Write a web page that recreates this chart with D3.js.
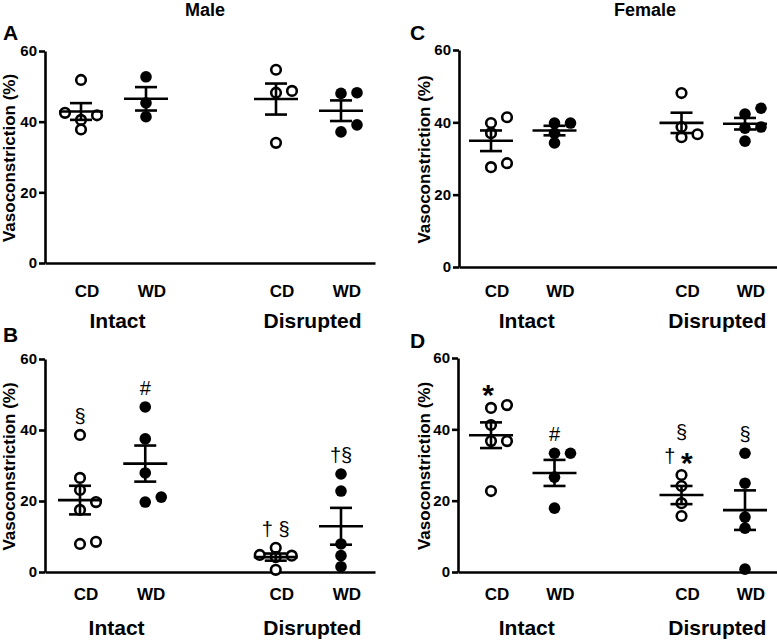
<!DOCTYPE html>
<html><head><meta charset="utf-8">
<script src="https://cdn.jsdelivr.net/npm/d3@7"></script>
<style>body{margin:0;background:#fff} svg{display:block}</style>
</head><body><svg id="c" width="777" height="641"></svg>
<script>
// ---------- data ----------
const sexes = ["Male", "Female"];
const panelLetters = ["A", "B", "C", "D"];
const categories = ["CD", "WD", "CD", "WD"];
const conditions = ["Intact", "Disrupted"];
const yTicks = [0, 20, 40, 60];
const yTitle = "Vasoconstriction (%)";

// Panel A (Male, top)
const maleA_intactCD = [51.8, 42.5, 41.8, 40.5, 37.8];
const maleA_intactWD = [52.7, 45.3, 41.4];
const maleA_disruptedCD = [54.7, 48.7, 48.2, 34.0];
const maleA_disruptedWD = [48.2, 48.0, 39.1, 37.1];
// Panel B (Male, bottom)
const maleB_intactCD = [38.6, 26.5, 23.1, 19.7, 17.5, 8.5, 7.9];
const maleB_intactWD = [46.5, 37.5, 27.9, 21.1, 19.7];
const maleB_disruptedCD = [6.8, 4.8, 4.6, 4.2, 0.6];
const maleB_disruptedWD = [27.6, 22.8, 7.9, 4.6, 1.5];
const maleB_marks = ["§", "#", "† §", "†§"];
// Panel C (Female, top)
const femaleC_intactCD = [41.4, 39.8, 37.0, 28.7, 27.6];
const femaleC_intactWD = [39.8, 39.8, 37.0, 34.3];
const femaleC_disruptedCD = [48.1, 38.7, 36.7, 35.9];
const femaleC_disruptedWD = [43.9, 42.3, 38.7, 38.4, 34.8];
// Panel D (Female, bottom)
const femaleD_intactCD = [46.8, 46.0, 41.2, 36.7, 36.7, 22.7];
const femaleD_intactWD = [33.3, 33.3, 26.6, 17.9];
const femaleD_disruptedCD = [27.2, 24.1, 19.3, 15.7];
const femaleD_disruptedWD = [33.3, 24.9, 15.4, 12.3, 0.8];
const femaleD_marks = ["*", "#", "§|† *", "§"];

// ---------- layout ----------
const FONT = "'Liberation Sans', Arial, Helvetica, sans-serif";
const colPos = [0, 1, 3, 4];
const panels = [
  {letter: "A", groups: [maleA_intactCD, maleA_intactWD, maleA_disruptedCD, maleA_disruptedWD], marks: null,
   xr: [81, 341], axisX: [45, 375], yr: [263, 51], labelY: 297, groupY: 328, letterPos: [3, 40], titleX: 9},
  {letter: "B", groups: [maleB_intactCD, maleB_intactWD, maleB_disruptedCD, maleB_disruptedWD], marks: maleB_marks,
   xr: [80, 341], axisX: [45, 375], yr: [572, 359], labelY: 600, groupY: 635, letterPos: [3, 342], titleX: 9},
  {letter: "C", groups: [femaleC_intactCD, femaleC_intactWD, femaleC_disruptedCD, femaleC_disruptedWD], marks: null,
   xr: [491, 745], axisX: [459, 777], yr: [267, 50], labelY: 297, groupY: 328, letterPos: [410, 40], titleX: 424},
  {letter: "D", groups: [femaleD_intactCD, femaleD_intactWD, femaleD_disruptedCD, femaleD_disruptedWD], marks: femaleD_marks,
   xr: [491, 745], axisX: [458, 777], yr: [572, 358], labelY: 600, groupY: 635, letterPos: [410, 348], titleX: 424}
];

const svg = d3.select("#c");
const SW = 2.6;

// titles
svg.append("text").attr("x", 205).attr("y", 16).attr("text-anchor", "middle")
  .style("font", `bold 18px ${FONT}`).text(sexes[0]);
svg.append("text").attr("x", 645).attr("y", 16).attr("text-anchor", "middle")
  .style("font", `bold 18px ${FONT}`).text(sexes[1]);

function dodge(vals, y, step, minD) {
  const order = vals.map((v, i) => i).sort((a, b) => vals[a] - vals[b]);
  const placed = [];
  const offs = new Array(vals.length);
  order.forEach(i => {
    const py = y(vals[i]);
    const cands = [0, step, -step, 2 * step, -2 * step];
    for (const dx of cands) {
      const ok = placed.every(p => Math.hypot(p.dx - dx, p.py - py) >= minD);
      if (ok) { offs[i] = dx; placed.push({dx, py}); break; }
    }
  });
  return offs;
}

panels.forEach(p => {
  const g = svg.append("g");
  const x = d3.scaleLinear().domain([0, 4]).range(p.xr);
  const y = d3.scaleLinear().domain([0, 60]).range(p.yr);

  // y axis
  const ya = g.append("g").attr("transform", `translate(${p.axisX[0]},0)`)
    .call(d3.axisLeft(y).tickValues(yTicks).tickSize(6).tickSizeOuter(0).tickPadding(2));
  ya.select(".domain").attr("stroke", "#000").attr("stroke-width", SW);
  ya.selectAll(".tick line").attr("stroke", "#000").attr("stroke-width", SW);
  ya.selectAll(".tick text").style("font", `bold 15px ${FONT}`).attr("fill", "#000");

  // x axis line
  const xa = d3.scaleLinear().domain([0, 1]).range(p.axisX);
  const xg = g.append("g").attr("transform", `translate(0,${y(0)})`)
    .call(d3.axisBottom(xa).tickValues([]).tickSizeOuter(0));
  xg.select(".domain").attr("stroke", "#000").attr("stroke-width", SW);

  // y title
  g.append("text").attr("transform", `translate(${p.titleX},${(y(0) + y(60)) / 2 + 1}) rotate(-90)`)
    .attr("text-anchor", "middle").attr("dominant-baseline", "central")
    .style("font", `bold 17px ${FONT}`).text(yTitle);

  // panel letter
  g.append("text").attr("x", p.letterPos[0]).attr("y", p.letterPos[1])
    .style("font", `bold 21px ${FONT}`).text(p.letter);

  // category labels
  categories.forEach((c, i) => {
    g.append("text").attr("x", x(colPos[i]) + 6).attr("y", p.labelY).attr("text-anchor", "middle")
      .style("font", `bold 17px ${FONT}`).text(c);
  });
  // group labels
  conditions.forEach((c, k) => {
    const mid = (x(colPos[2 * k]) + x(colPos[2 * k + 1])) / 2 + 4;
    g.append("text").attr("x", mid).attr("y", p.groupY).attr("text-anchor", "middle")
      .style("font", `bold 21px ${FONT}`).text(c);
  });

  p.groups.forEach((vals, i) => {
    const cx = x(colPos[i]);
    const open = categories[i] === "CD";
    const offs = dodge(vals, y, 16, 9);
    // points
    g.selectAll(null).data(vals).join("circle")
      .attr("cx", (d, j) => cx + offs[j]).attr("cy", d => y(d))
      .attr("r", open ? 4.8 : 5.8)
      .attr("fill", open ? "#fff" : "#000")
      .attr("stroke", open ? "#000" : "none").attr("stroke-width", SW);
    // mean and SEM
    const m = d3.mean(vals);
    const se = d3.deviation(vals) / Math.sqrt(vals.length);
    const eg = g.append("g").attr("stroke", "#000").attr("stroke-width", SW);
    eg.append("line").attr("x1", cx - 22).attr("x2", cx + 22).attr("y1", y(m)).attr("y2", y(m));
    eg.append("line").attr("x1", cx).attr("x2", cx).attr("y1", y(m - se)).attr("y2", y(m + se));
    eg.append("line").attr("x1", cx - 11).attr("x2", cx + 11).attr("y1", y(m + se)).attr("y2", y(m + se));
    eg.append("line").attr("x1", cx - 11).attr("x2", cx + 11).attr("y1", y(m - se)).attr("y2", y(m - se));

    // significance marks
    if (p.marks) {
      const lines = p.marks[i].split("|").reverse();
      const top = y(d3.max(vals));
      lines.forEach((ln, li) => {
        const hasStar = ln.includes("*");
        const yc = top - 19 - li * 24 + (hasStar && ln.length === 1 ? 2 : 0);
        const t = g.append("text").attr("x", cx - (hasStar ? 3 : 0)).attr("text-anchor", "middle")
          .attr("y", yc + (ln === "*" ? 17 : 7));
        [...ln].forEach(ch => {
          const ts = t.append("tspan").text(ch);
          if (ch === "*") ts.style("font", `bold 30px ${FONT}`).attr("dy", ln.length > 1 ? 10 : 0);
          else ts.style("font", `20px ${FONT}`);
        });
      });
    }
  });
});
</script></body></html>
